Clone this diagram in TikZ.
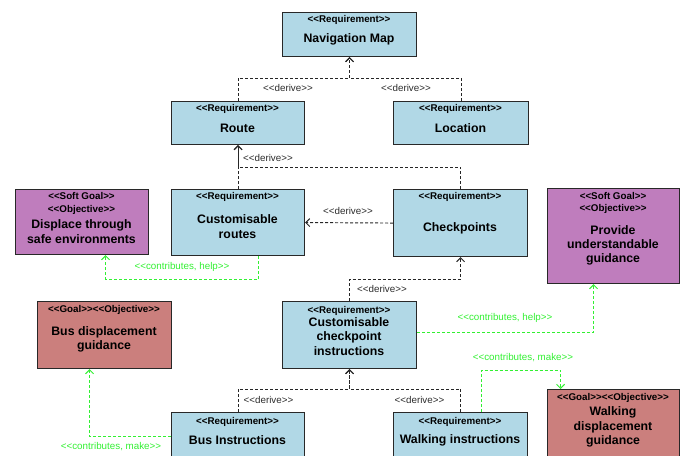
\documentclass[tikz,border=0pt]{standalone}
\usepackage{fontspec}
\setmainfont{Liberation Sans}[Ligatures=TeXOff]
\usetikzlibrary{arrows.meta,calc}

\definecolor{reqfill}{RGB}{177,216,230}
\definecolor{softfill}{RGB}{191,125,189}
\definecolor{goalfill}{RGB}{203,127,125}
\definecolor{boxline}{RGB}{40,40,40}
\definecolor{contrib}{RGB}{50,240,50}
\definecolor{derivetext}{RGB}{45,45,45}

\tikzset{
  block/.style={draw=boxline, line width=1.1pt, rectangle, inner sep=0pt, anchor=north west},
  req/.style={block, fill=reqfill},
  softgoal/.style={block, fill=softfill},
  goal/.style={block, fill=goalfill},
  stereo/.style={inner sep=0pt, align=center, font=\bfseries\fontsize{9.8}{12.4}\selectfont},
  title/.style={inner sep=0pt, align=center, font=\bfseries\fontsize{12.3}{14.2}\selectfont},
  tip/.style={-{Straight Barb[length=4pt,width=8pt]}},
  derive/.style={tip, draw=black!85, line width=0.95pt, dash pattern=on 3pt off 2pt},
  contributes/.style={tip, draw=contrib, line width=1pt, dash pattern=on 3pt off 2pt},
  derivelabel/.style={inner sep=0pt, text=derivetext, font=\fontsize{9.8}{11}\selectfont},
  contriblabel/.style={inner sep=0pt, text=contrib, font=\fontsize{9.8}{11}\selectfont},
}

\begin{document}
\begin{tikzpicture}[x=1pt, y=-1pt]
\useasboundingbox (0,0) rectangle (687,455);
\clip (0,0) rectangle (687,455);

% ---------- blocks ----------
\node[req, minimum width=134, minimum height=44] (nav) at (282,12) {};
\node[stereo] (navS) at (349,20) {<<Requirement>>};
\node[title] (navT) at (349,39) {Navigation Map};

\node[req, minimum width=133, minimum height=43] (route) at (171,101) {};
\node[stereo] (routeS) at (237.5,109) {<<Requirement>>};
\node[title] (routeT) at (237.5,128) {Route};

\node[req, minimum width=135, minimum height=43] (loc) at (393,101) {};
\node[stereo] (locS) at (460.5,109) {<<Requirement>>};
\node[title] (locT) at (460.5,128) {Location};

\node[softgoal, minimum width=133, minimum height=65] (safe) at (15,189) {};
\node[stereo] (safeS) at (81.5,203.5) {<<Soft Goal>>\\<<Objective>>};
\node[title] (safeT) at (81.5,231.5) {Displace through\\safe environments};

\node[req, minimum width=133, minimum height=66] (croutes) at (171,189) {};
\node[stereo] (croutesS) at (237.5,197) {<<Requirement>>};
\node[title] (croutesT) at (237.5,226.5) {Customisable\\routes};

\node[req, minimum width=134, minimum height=67] (chk) at (393,189) {};
\node[stereo] (chkS) at (460,197) {<<Requirement>>};
\node[title] (chkT) at (460,228) {Checkpoints};

\node[softgoal, minimum width=132, minimum height=95] (provide) at (547,188) {};
\node[stereo] (provideS) at (613,203) {<<Soft Goal>>\\<<Objective>>};
\node[title] (provideT) at (613,245.5) {Provide\\understandable\\guidance};

\node[goal, minimum width=134, minimum height=67] (busgoal) at (37,301) {};
\node[stereo] (busgoalS) at (104,310) {<<Goal>><<Objective>>};
\node[title] (busgoalT) at (104,339) {Bus displacement\\guidance};

\node[req, minimum width=134, minimum height=67] (cci) at (282,301) {};
\node[stereo] (cciS) at (349,311) {<<Requirement>>};
\node[title] (cciT) at (349,336.5) {Customisable\\checkpoint\\instructions};

\node[req, minimum width=133, minimum height=62] (bus) at (171,412) {};
\node[stereo] (busS) at (237.5,422) {<<Requirement>>};
\node[title] (busT) at (237.5,440) {Bus Instructions};

\node[req, minimum width=134, minimum height=62] (walk) at (393,412) {};
\node[stereo] (walkS) at (460,422) {<<Requirement>>};
\node[title] (walkT) at (460,440) {Walking instructions};

\node[goal, minimum width=132, minimum height=80] (walkgoal) at (547,389) {};
\node[stereo] (walkgoalS) at (613,398) {<<Goal>><<Objective>>};
\node[title] (walkgoalT) at (613,427) {Walking\\displacement\\guidance};

% ---------- derive relations ----------
\draw[derive] (route.north) -- ++(0,-23) -| (nav.south);
\draw[derive] (loc.north) -- ++(0,-23) -| (nav.south);
\draw[derive] (croutes.north) -- (route.south);
\draw[derive] (chk.north) -- ++(0,-22) -| (route.south);
\draw[derive] (chk.west) -- (croutes.east);
\draw[derive] (cci.north) -- ++(0,-22) -| (chk.south);
\draw[derive] (bus.north) -- ++(0,-23) -| (cci.south);
\draw[derive] (walk.north) -- ++(0,-23) -| (cci.south);

\node[derivelabel] (dl1) at (288,88) {<<derive>>};
\node[derivelabel] (dl2) at (406,88) {<<derive>>};
\node[derivelabel] (dl3) at (268,158) {<<derive>>};
\node[derivelabel] (dl4) at (348,211) {<<derive>>};
\node[derivelabel] (dl5) at (382,289) {<<derive>>};
\node[derivelabel] (dl6) at (268.5,400) {<<derive>>};
\node[derivelabel] (dl7) at (419.5,400) {<<derive>>};

% ---------- contribution relations ----------
\draw[contributes] ($(croutes.south)+(20.5,0)$) -- ++(0,23) -| ($(safe.south)+(23.5,0)$);
\draw[contributes] ($(cci.east)+(0,-2.5)$) -| ($(provide.south)+(-20,0)$);
\draw[contributes] ($(walk.north)+(21,0)$) -- ++(0,-42) -| ($(walkgoal.north)+(-53,0)$);
\draw[contributes] ($(bus.west)+(0,-7)$) -| ($(busgoal.south)+(-15,0)$);

\node[contriblabel] (cl1) at (182,267) {<<contributes, help>>};
\node[contriblabel] (cl2) at (505,318) {<<contributes, help>>};
\node[contriblabel] (cl3) at (523,358) {<<contributes, make>>};
\node[contriblabel] (cl4) at (111,447) {<<contributes, make>>};
\end{tikzpicture}
\end{document}
